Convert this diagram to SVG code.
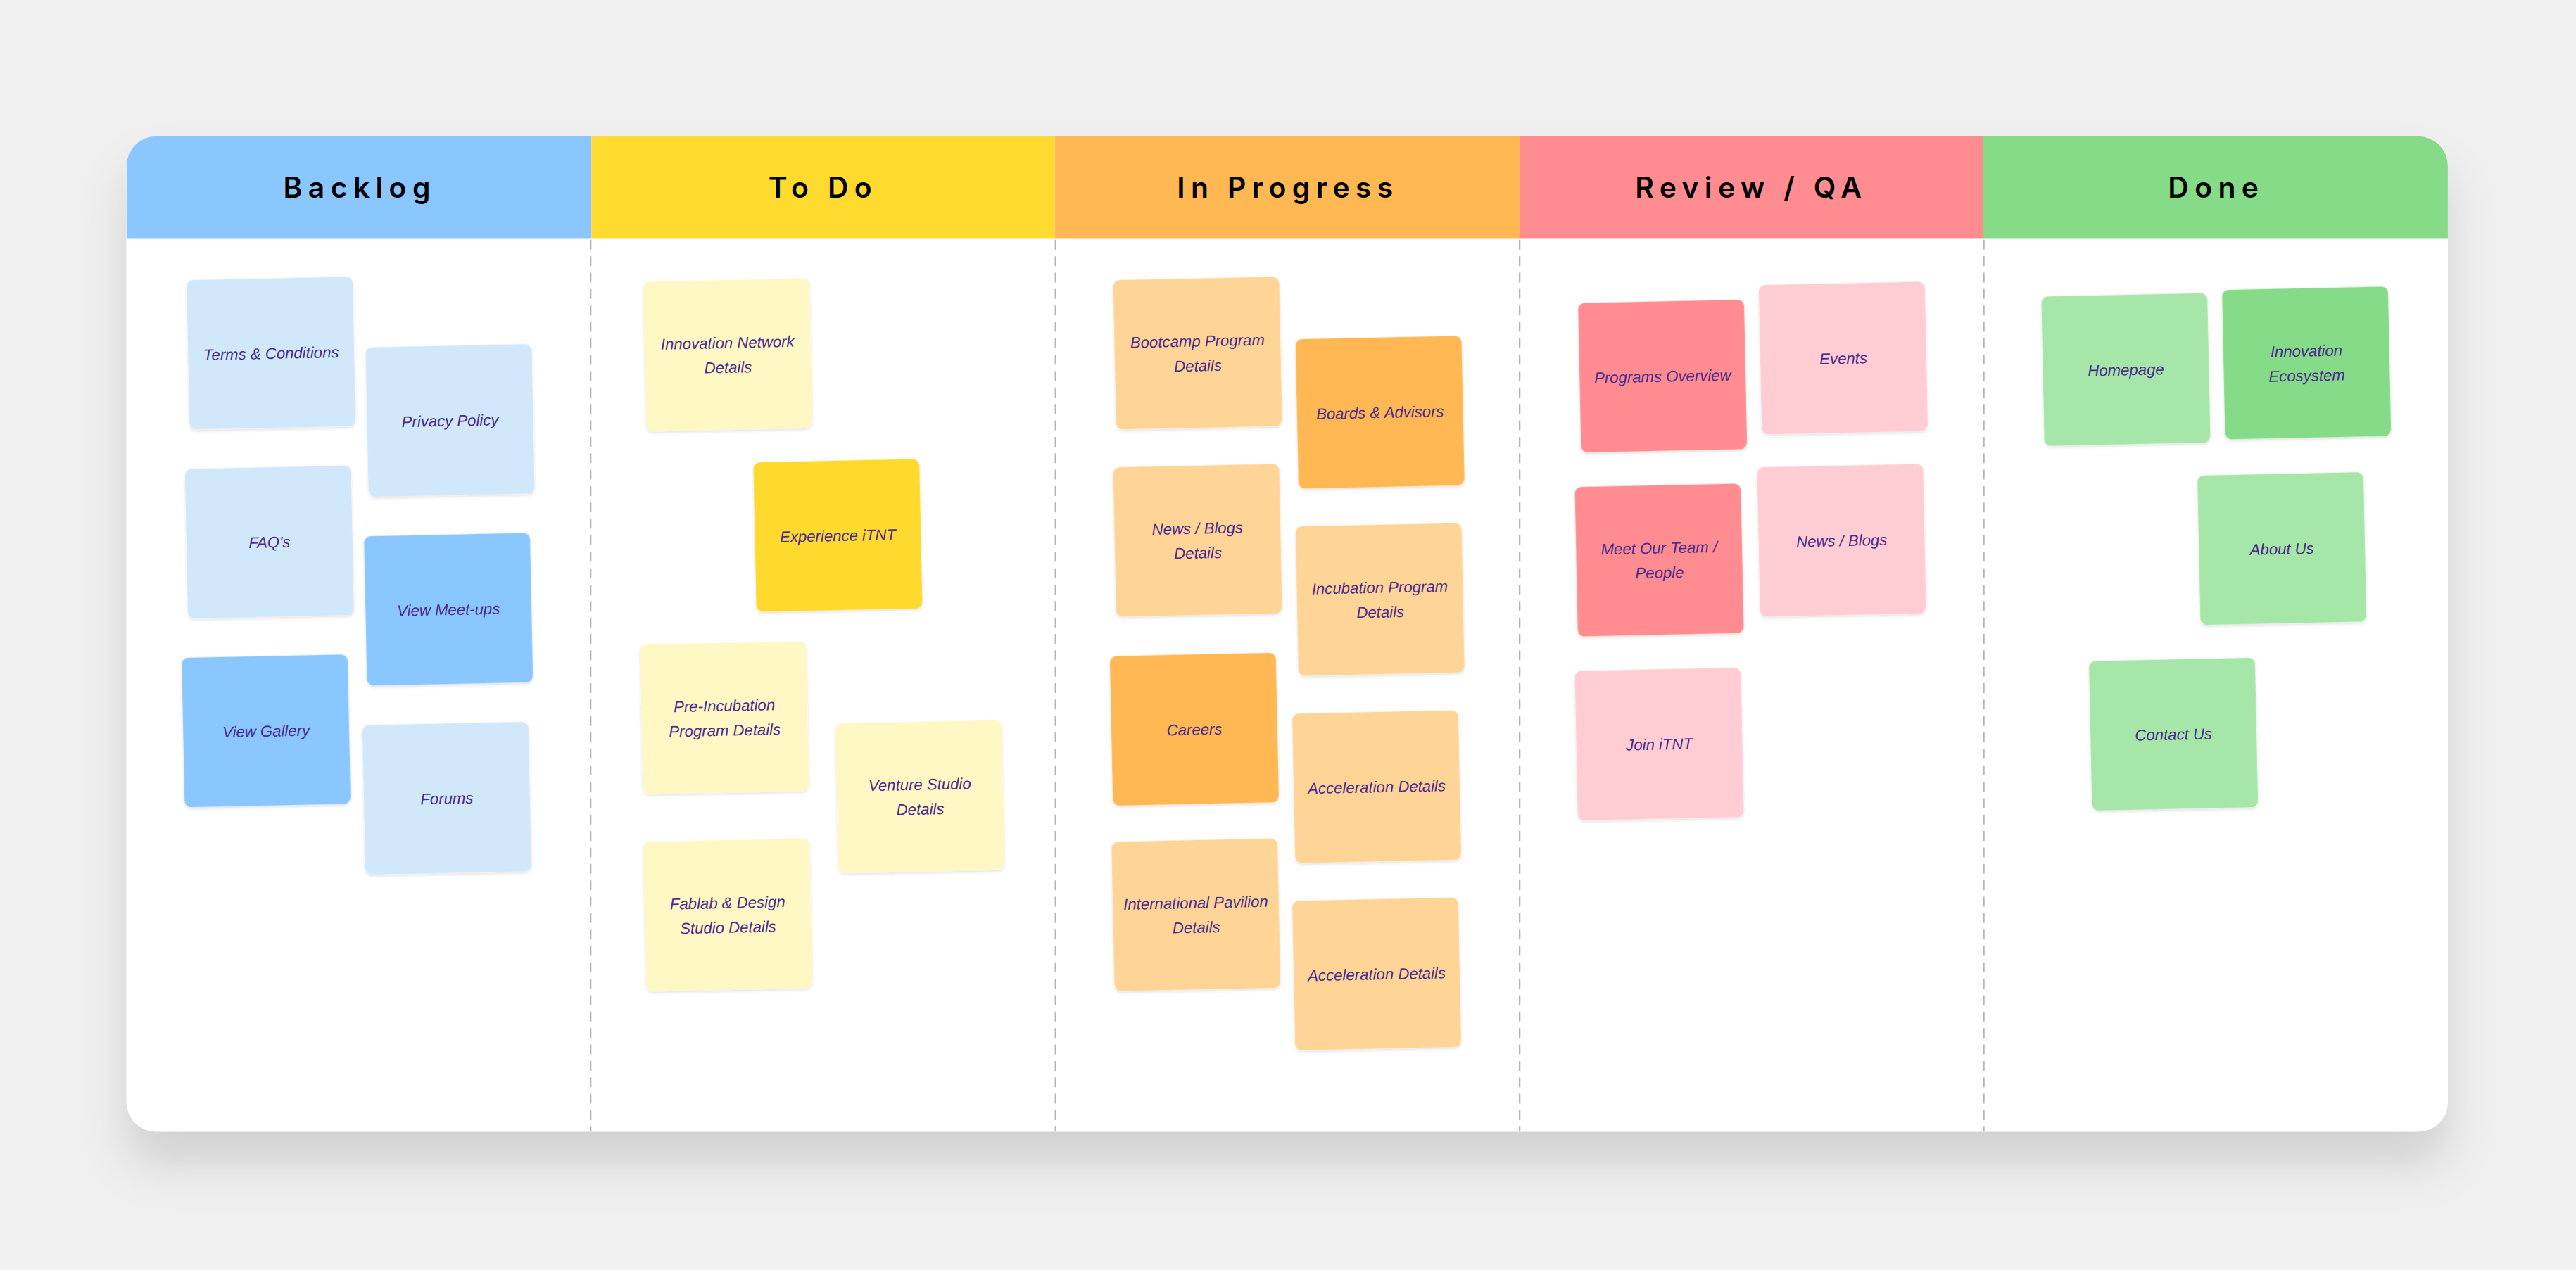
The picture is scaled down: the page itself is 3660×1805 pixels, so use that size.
<svg xmlns="http://www.w3.org/2000/svg" width="3660" height="1805" viewBox="0 0 3660 1805">
<defs>
<filter id="sh" x="-10%" y="-10%" width="120%" height="130%"><feDropShadow dx="0" dy="20" stdDeviation="14" flood-color="#000" flood-opacity="0.13"/></filter>
<filter id="ns" x="-10%" y="-10%" width="120%" height="130%"><feDropShadow dx="0" dy="1" stdDeviation="0.8" flood-color="#000" flood-opacity="0.12"/></filter>
<clipPath id="bc"><rect x="77" y="83" width="1413" height="606" rx="18"/></clipPath>
</defs>
<style>
.h{font-family:Inter,"Open Sans",sans-serif;font-weight:600;font-size:17.5px;letter-spacing:3.6px;fill:#000;text-anchor:middle}
.t{font-family:"Liberation Sans",sans-serif;font-style:italic;font-size:9.5px;fill:#4a2a8c;text-anchor:middle}
.dv{stroke:#b4b4b4;stroke-width:1;stroke-dasharray:6 4}
.n{filter:url(#ns)}
.bl{fill:#d1e7fa}.bd{fill:#8ac6ff}.yl{fill:#fff8c4}.yd{fill:#ffda2f}.ol{fill:#ffd597}.od{fill:#ffb852}.rl{fill:#ffcdd3}.rd{fill:#ff8c91}.gl{fill:#a6e6a8}.gd{fill:#85db87}
</style>
<rect width="3660" height="1805" fill="#f0f0f0"/>
<g transform="scale(2.3342)">
<g id="board">
<rect x="77" y="83" width="1413" height="606" rx="18" fill="#fff" filter="url(#sh)"/>
<g clip-path="url(#bc)">
<rect x="77" y="83" width="283" height="62" fill="#8ac6ff"/>
<rect x="360" y="83" width="282" height="62" fill="#ffda2f"/>
<rect x="642" y="83" width="283" height="62" fill="#ffb852"/>
<rect x="925" y="83" width="282" height="62" fill="#ff8c91"/>
<rect x="1207" y="83" width="283" height="62" fill="#85db87"/>
</g>
<text class="h" x="219" y="120.5">Backlog</text>
<text class="h" x="501" y="120.5">To Do</text>
<text class="h" x="784" y="120.5">In Progress</text>
<text class="h" x="1066" y="120.5">Review / QA</text>
<text class="h" x="1349" y="120.5">Done</text>
</g>
<g id="connectors">
<line class="dv" x1="359.5" y1="146" x2="359.5" y2="689"/>
<line class="dv" x1="642.5" y1="146" x2="642.5" y2="689"/>
<line class="dv" x1="925" y1="146" x2="925" y2="689"/>
<line class="dv" x1="1207.5" y1="146" x2="1207.5" y2="689"/>
</g>
<g id="n1" transform="translate(165,215) rotate(-1.2)"><rect class="n bl" x="-50.5" y="-45.5" width="101" height="91" rx="4"/><text class="t" y="3.5">Terms &amp; Conditions</text></g>
<g id="n2" transform="translate(274,256) rotate(-1.2)"><rect class="n bl" x="-50.5" y="-45.5" width="101" height="91" rx="4"/><text class="t" y="3.5">Privacy Policy</text></g>
<g id="n3" transform="translate(164,330) rotate(-1.2)"><rect class="n bl" x="-50.5" y="-45.5" width="101" height="91" rx="4"/><text class="t" y="3.5">FAQ's</text></g>
<g id="n4" transform="translate(273,371) rotate(-1.2)"><rect class="n bd" x="-50.5" y="-45.5" width="101" height="91" rx="4"/><text class="t" y="3.5">View Meet-ups</text></g>
<g id="n5" transform="translate(162,445) rotate(-1.2)"><rect class="n bd" x="-50.5" y="-45.5" width="101" height="91" rx="4"/><text class="t" y="3.5">View Gallery</text></g>
<g id="n6" transform="translate(272,486) rotate(-1.2)"><rect class="n bl" x="-50.5" y="-45.5" width="101" height="91" rx="4"/><text class="t" y="3.5">Forums</text></g>
<g id="n7" transform="translate(443,216) rotate(-1.2)"><rect class="n yl" x="-50.5" y="-45.5" width="101" height="91" rx="4"/><text class="t" y="-4">Innovation Network</text><text class="t" y="11">Details</text></g>
<g id="n8" transform="translate(510,326) rotate(-1.2)"><rect class="n yd" x="-50.5" y="-45.5" width="101" height="91" rx="4"/><text class="t" y="3.5">Experience iTNT</text></g>
<g id="n9" transform="translate(441,437) rotate(-1.2)"><rect class="n yl" x="-50.5" y="-45.5" width="101" height="91" rx="4"/><text class="t" y="-4">Pre-Incubation</text><text class="t" y="11">Program Details</text></g>
<g id="n10" transform="translate(560,485) rotate(-1.2)"><rect class="n yl" x="-50.5" y="-45.5" width="101" height="91" rx="4"/><text class="t" y="-4">Venture Studio</text><text class="t" y="11">Details</text></g>
<g id="n11" transform="translate(443,557) rotate(-1.2)"><rect class="n yl" x="-50.5" y="-45.5" width="101" height="91" rx="4"/><text class="t" y="-4">Fablab &amp; Design</text><text class="t" y="11">Studio Details</text></g>
<g id="n12" transform="translate(729,215) rotate(-1.2)"><rect class="n ol" x="-50.5" y="-45.5" width="101" height="91" rx="4"/><text class="t" y="-4">Bootcamp Program</text><text class="t" y="11">Details</text></g>
<g id="n13" transform="translate(840,251) rotate(-1.2)"><rect class="n od" x="-50.5" y="-45.5" width="101" height="91" rx="4"/><text class="t" y="3.5">Boards &amp; Advisors</text></g>
<g id="n14" transform="translate(729,329) rotate(-1.2)"><rect class="n ol" x="-50.5" y="-45.5" width="101" height="91" rx="4"/><text class="t" y="-4">News / Blogs</text><text class="t" y="11">Details</text></g>
<g id="n15" transform="translate(840,365) rotate(-1.2)"><rect class="n ol" x="-50.5" y="-45.5" width="101" height="91" rx="4"/><text class="t" y="-4">Incubation Program</text><text class="t" y="11">Details</text></g>
<g id="n16" transform="translate(727,444) rotate(-1.2)"><rect class="n od" x="-50.5" y="-45.5" width="101" height="91" rx="4"/><text class="t" y="3.5">Careers</text></g>
<g id="n17" transform="translate(838,479) rotate(-1.2)"><rect class="n ol" x="-50.5" y="-45.5" width="101" height="91" rx="4"/><text class="t" y="3.5">Acceleration Details</text></g>
<g id="n18" transform="translate(728,557) rotate(-1.2)"><rect class="n ol" x="-50.5" y="-45.5" width="101" height="91" rx="4"/><text class="t" y="-4">International Pavilion</text><text class="t" y="11">Details</text></g>
<g id="n19" transform="translate(838,593) rotate(-1.2)"><rect class="n ol" x="-50.5" y="-45.5" width="101" height="91" rx="4"/><text class="t" y="3.5">Acceleration Details</text></g>
<g id="n20" transform="translate(1012,229) rotate(-1.2)"><rect class="n rd" x="-50.5" y="-45.5" width="101" height="91" rx="4"/><text class="t" y="3.5">Programs Overview</text></g>
<g id="n21" transform="translate(1122,218) rotate(-1.2)"><rect class="n rl" x="-50.5" y="-45.5" width="101" height="91" rx="4"/><text class="t" y="3.5">Events</text></g>
<g id="n22" transform="translate(1010,341) rotate(-1.2)"><rect class="n rd" x="-50.5" y="-45.5" width="101" height="91" rx="4"/><text class="t" y="-4">Meet Our Team /</text><text class="t" y="11">People</text></g>
<g id="n23" transform="translate(1121,329) rotate(-1.2)"><rect class="n rl" x="-50.5" y="-45.5" width="101" height="91" rx="4"/><text class="t" y="3.5">News / Blogs</text></g>
<g id="n24" transform="translate(1010,453) rotate(-1.2)"><rect class="n rl" x="-50.5" y="-45.5" width="101" height="91" rx="4"/><text class="t" y="3.5">Join iTNT</text></g>
<g id="n25" transform="translate(1294,225) rotate(-1.2)"><rect class="n gl" x="-50.5" y="-45.5" width="101" height="91" rx="4"/><text class="t" y="3.5">Homepage</text></g>
<g id="n26" transform="translate(1404,221) rotate(-1.2)"><rect class="n gd" x="-50.5" y="-45.5" width="101" height="91" rx="4"/><text class="t" y="-4">Innovation</text><text class="t" y="11">Ecosystem</text></g>
<g id="n27" transform="translate(1389,334) rotate(-1.2)"><rect class="n gl" x="-50.5" y="-45.5" width="101" height="91" rx="4"/><text class="t" y="3.5">About Us</text></g>
<g id="n28" transform="translate(1323,447) rotate(-1.2)"><rect class="n gl" x="-50.5" y="-45.5" width="101" height="91" rx="4"/><text class="t" y="3.5">Contact Us</text></g>
</g>
</svg>
